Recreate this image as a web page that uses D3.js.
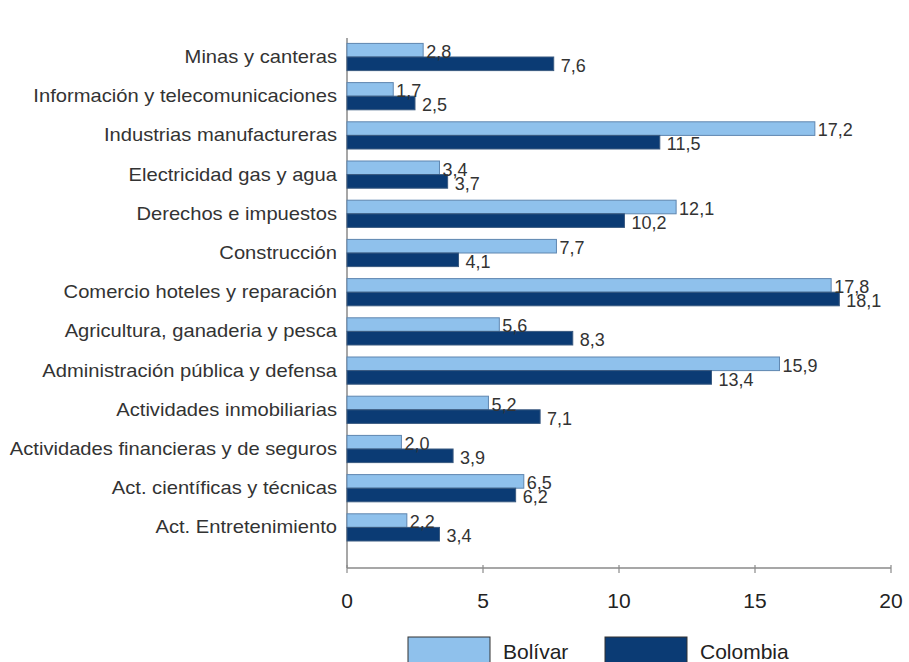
<!DOCTYPE html>
<html>
<head>
<meta charset="utf-8">
<script src="https://cdn.jsdelivr.net/npm/d3@7"></script>
<style>
  body { margin: 0; background: #fff; }
  text { font-family: "Liberation Sans", Arial, sans-serif; }
</style>
</head>
<body>
<div id="canvas"></div>
<script>
var categories = ["Minas y canteras", "Información y telecomunicaciones", "Industrias manufactureras",
  "Electricidad gas y agua", "Derechos e impuestos", "Construcción", "Comercio hoteles y reparación",
  "Agricultura, ganaderia y pesca", "Administración pública y defensa", "Actividades inmobiliarias",
  "Actividades financieras y de seguros", "Act. científicas y técnicas", "Act. Entretenimiento"];
var bolivar = [2.8, 1.7, 17.2, 3.4, 12.1, 7.7, 17.8, 5.6, 15.9, 5.2, 2.0, 6.5, 2.2];
var colombia = [7.6, 2.5, 11.5, 3.7, 10.2, 4.1, 18.1, 8.3, 13.4, 7.1, 3.9, 6.2, 3.4];
var xTicks = [0, 5, 10, 15, 20];

const width = 909, height = 662;
const fmt = function (v) { return v.toFixed(1).replace(".", ","); };

const svg = d3.select("#canvas").append("svg")
  .attr("width", width).attr("height", height);

const x = d3.scaleLinear().domain([0, 20]).range([347, 891]);
const y = d3.scaleBand().domain(categories).range([37.4, 547]);
const barH = 13.6;

// axes lines
svg.append("line").attr("x1", 347).attr("x2", 347).attr("y1", 38).attr("y2", 568)
  .attr("stroke", "#8a8a8a").attr("stroke-width", 1.5);
svg.append("line").attr("x1", 347).attr("x2", 891).attr("y1", 568).attr("y2", 568)
  .attr("stroke", "#8a8a8a").attr("stroke-width", 1.5);

svg.selectAll(".tick").data(xTicks).enter().append("line")
  .attr("x1", d => x(d)).attr("x2", d => x(d)).attr("y1", 565).attr("y2", 573)
  .attr("stroke", "#8a8a8a").attr("stroke-width", 1.2);
svg.selectAll(".ticklab").data(xTicks).enter().append("text")
  .attr("x", d => x(d)).attr("y", 608).attr("text-anchor", "middle")
  .attr("font-size", 21).attr("fill", "#222").text(d => d);

// category labels (reference text is a bit stretched horizontally)
svg.selectAll(".cat").data(categories).enter().append("text")
  .attr("x", 337).attr("y", d => y(d) + y.bandwidth() / 2 + 6)
  .attr("text-anchor", "end").attr("font-size", 18).attr("fill", "#333")
  .attr("transform", "translate(337,0) scale(1.12,1) translate(-337,0)")
  .text(d => d);

// bars
svg.selectAll(".bb").data(categories).enter().append("rect")
  .attr("x", x(0)).attr("y", d => y(d) + y.bandwidth() / 2 - barH)
  .attr("width", (d, i) => x(bolivar[i]) - x(0)).attr("height", barH)
  .attr("fill", "#8fc1ec").attr("stroke", "#5f86b0").attr("stroke-width", 1);
svg.selectAll(".cb").data(categories).enter().append("rect")
  .attr("x", x(0)).attr("y", d => y(d) + y.bandwidth() / 2)
  .attr("width", (d, i) => x(colombia[i]) - x(0)).attr("height", barH)
  .attr("fill", "#0b3b74").attr("stroke", "#3a5a80").attr("stroke-width", 1);

// value labels
svg.selectAll(".bl").data(categories).enter().append("text")
  .attr("x", (d, i) => x(bolivar[i]) + 3).attr("y", d => y(d) + y.bandwidth() / 2 + 1)
  .attr("font-size", 18).attr("fill", "#333").text((d, i) => fmt(bolivar[i]));
svg.selectAll(".cl").data(categories).enter().append("text")
  .attr("x", (d, i) => x(colombia[i]) + 7).attr("y", d => y(d) + y.bandwidth() / 2 + 15)
  .attr("font-size", 18).attr("fill", "#333").text((d, i) => fmt(colombia[i]));

// legend
const legend = [{name: "Bolívar", fill: "#8fc1ec", x: 408}, {name: "Colombia", fill: "#0b3b74", x: 605}];
legend.forEach(function (l) {
  svg.append("rect").attr("x", l.x).attr("y", 637).attr("width", 82).attr("height", 30)
    .attr("fill", l.fill).attr("stroke", "#333").attr("stroke-width", 1);
  svg.append("text").attr("x", l.x + 95).attr("y", 659).attr("font-size", 21)
    .attr("fill", "#222").text(l.name);
});
</script>
</body>
</html>
